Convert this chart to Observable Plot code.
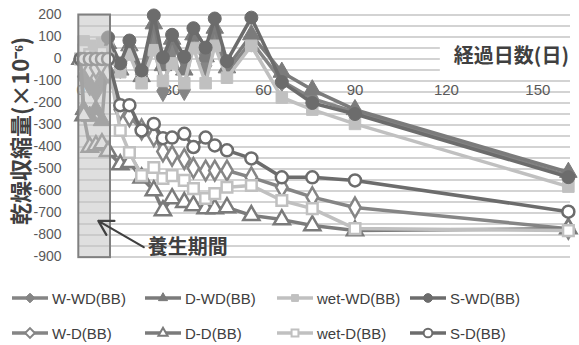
<!DOCTYPE html>
<html><head><meta charset="utf-8">
<script src="https://cdn.jsdelivr.net/npm/d3@7"></script>
<script src="https://cdn.jsdelivr.net/npm/@observablehq/plot@0.6"></script>
<style>
body{margin:0;background:#fff;}
#wrap{position:relative;width:579px;height:345px;background:#fff;font-family:"Liberation Sans",Arial,sans-serif;}
.item{position:absolute;display:flex;align-items:center;font-size:15px;color:#404040;white-space:nowrap;}
.item svg{margin-right:2px;}
</style></head><body><div id="wrap"></div>
<script>
// measurement days
const days = [0,1,3,5,7,9,13,16,20,24,27,30,34,37,41,44,48,56,66,76,90,160];
// drying shrinkage (×10^-6)
const wWD   = [0,-80,-120,-150,-100,40,-40,50,-70,80,-145,40,-140,90,-30,110,-60,80,-100,-180,-240,-530];
const dWD   = [0,-230,-260,-230,-280,70,-50,60,-80,160,-30,90,-50,110,10,140,-40,110,-60,-140,-230,-515];
const wetWD = [0,80,60,40,70,50,-60,20,-110,40,-100,-20,-110,50,-110,60,-85,60,-175,-230,-295,-580];
const sWD   = [0,0,0,0,0,98,-20,84,-52,198,7,110,10,140,52,184,-10,188,-105,-200,-250,-537];
const wD    = [0,-20,-50,-40,-30,-60,-230,-260,-320,-350,-420,-440,-455,-495,-507,-507,-507,-538,-583,-628,-675,-771];
const dD    = [0,-257,-400,-393,-385,-420,-480,-470,-540,-598,-689,-634,-652,-666,-680,-680,-675,-711,-730,-757,-780,-771];
const wetD  = [0,40,20,10,30,0,-325,-425,-530,-493,-543,-530,-552,-589,-634,-612,-583,-575,-643,-680,-771,-780];
const sD    = [0,0,0,0,0,0,-210,-210,-325,-295,-360,-357,-340,-400,-357,-393,-415,-452,-538,-538,-552,-694];

const seriesNames = ["W-WD(BB)","D-WD(BB)","wet-WD(BB)","S-WD(BB)","W-D(BB)","D-D(BB)","wet-D(BB)","S-D(BB)"];
const seriesValues = [wWD,dWD,wetWD,sWD,wD,dD,wetD,sD];
const seriesColors = ["#858585","#7b7b7b","#c0c0c0","#6c6c6c","#858585","#7b7b7b","#c0c0c0","#6c6c6c"];
const seriesSymbols = ["diamond","triangle","square","circle","diamond","triangle","square","circle"];
const seriesFilled = [true,true,true,true,false,false,false,false];

const xTicks = [0,30,60,90,120,150];
const yTicks = d3.range(-900, 201, 100);
const gridTicks = d3.range(-900, 201, 50);

const table = seriesNames.flatMap((name,k) => days.map((d,i)=>({day:d, value:seriesValues[k][i], name})));

const marks = [
  Plot.gridY(gridTicks, {stroke:"#c4c4c4", strokeOpacity:1, strokeWidth:1.4}),
  Plot.axisY(yTicks, {tickSize:0, tickPadding:17, tickFormat:d=>String(d), fontSize:14, fill:"#595959", fontFamily:"Liberation Sans, Arial, sans-serif", label:null}),
  Plot.rect([{x1:118, x2:160.7, y1:-60, y2:62}], {x1:"x1", x2:"x2", y1:"y1", y2:"y2", fill:"white"}),
  Plot.text(["経過日数(日)"], {x:160.2, y:12, text:d=>d, textAnchor:"end", fontSize:20, fontWeight:"bold", fill:"#404040", fontFamily:"Noto Sans CJK JP"}),
  Plot.text(xTicks, {x:d=>d, y:-143, text:d=>String(d), fontSize:15, fill:"#595959", fontFamily:"Liberation Sans, Arial, sans-serif"})
];
seriesNames.forEach((name,k) => {
  const rows = table.filter(r => r.name === name);
  marks.push(Plot.line(rows, {x:"day", y:"value", stroke:seriesColors[k], strokeWidth:3.5}));
  marks.push(Plot.dot(rows, {x:"day", y:"value", symbol:seriesSymbols[k], r: seriesFilled[k] ? 6.5 : 6,
    fill: seriesFilled[k] ? seriesColors[k] : "white", stroke:seriesColors[k], strokeWidth: seriesFilled[k] ? 1 : 2.5}));
});
marks.push(
  Plot.rect([{x1:-0.6, x2:9.8, y1:-903, y2:200}], {x1:"x1", x2:"x2", y1:"y1", y2:"y2", fill:"#c4c4c4", fillOpacity:0.55, stroke:"#808080", strokeWidth:2}),
  Plot.arrow([{x1:20.7, y1:-855, x2:5.8, y2:-736}], {x1:"x1", y1:"y1", x2:"x2", y2:"y2", stroke:"#404040", strokeWidth:2.2, headLength:11}),
  Plot.text(["養生期間"], {x:22, y:-855, text:d=>d, textAnchor:"start", fontSize:20, fontWeight:"bold", fill:"#404040", fontFamily:"Noto Sans CJK JP"})
);

const chart = Plot.plot({
  width:579, height:262,
  marginLeft:78, marginRight:9, marginTop:14.5, marginBottom:5.5,
  x:{domain:[-0.7,160.7], axis:null},
  y:{domain:[-900,200], axis:null},
  style:{background:"white", overflow:"visible"},
  marks
});
const svg = d3.select(chart);
svg.append("text")
  .attr("transform","translate(23,131) rotate(-90)")
  .attr("text-anchor","middle").attr("dominant-baseline","middle")
  .attr("font-family","Noto Sans CJK JP").attr("font-weight","bold").attr("font-size",22).attr("fill","#404040")
  .text("乾燥収縮量(×10⁻⁶)");
const wrap = document.getElementById("wrap");
chart.style.position="absolute"; chart.style.left="0"; chart.style.top="0";
wrap.appendChild(chart);

// legend
const legX = [12,145,277,410];
const legY = [298,333];
seriesNames.forEach((name,k) => {
  const div = document.createElement("div");
  div.className = "item";
  div.style.left = legX[k%4] + "px";
  div.style.top = (legY[Math.floor(k/4)] - 10) + "px";
  div.style.height = "20px";
  const sw = d3.create("svg").attr("width",38).attr("height",20);
  sw.append("line").attr("x1",0).attr("x2",36).attr("y1",10).attr("y2",10).attr("stroke",seriesColors[k]).attr("stroke-width",3.5);
  const symMap = {diamond:d3.symbolDiamond2, triangle:d3.symbolTriangle2, square:d3.symbolSquare2, circle:d3.symbolCircle};
  sw.append("path").attr("transform","translate(18,10)")
    .attr("d", d3.symbol(symMap[seriesSymbols[k]], 60)())
    .attr("fill", seriesFilled[k] ? seriesColors[k] : "white")
    .attr("stroke", seriesColors[k]).attr("stroke-width", seriesFilled[k] ? 1 : 2);
  div.appendChild(sw.node());
  const t = document.createElement("span"); t.textContent = name; div.appendChild(t);
  wrap.appendChild(div);
});
</script></body></html>
